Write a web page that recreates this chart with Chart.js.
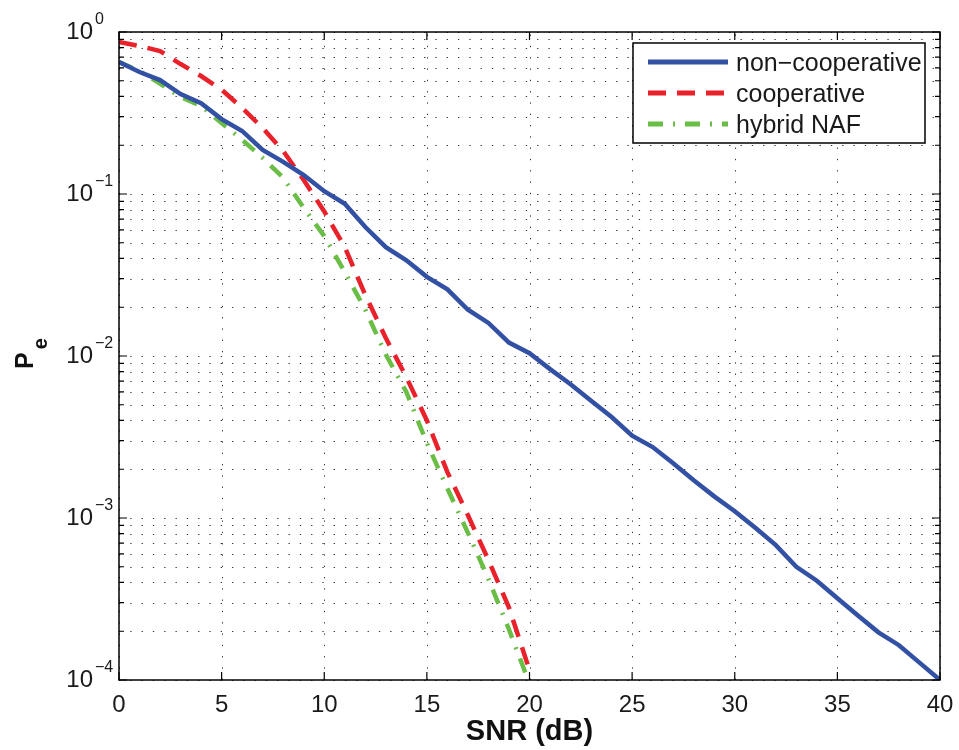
<!DOCTYPE html>
<html>
<head>
<meta charset="utf-8">
<script src="https://cdn.jsdelivr.net/npm/chart.js@4/dist/chart.umd.min.js"></script>
<style>
  html, body { margin: 0; padding: 0; background: #fff; }
  #wrap { width: 959px; height: 750px; }
</style>
</head>
<body>
<div id="wrap"><canvas id="c" width="959" height="750"></canvas></div>
<script>
// data
const snr = [0,1,2,3,4,5,6,7,8,9,10,11,12,13,14,15,16,17,18,19,20,
  21,22,23,24,25,26,27,28,29,30,31,32,33,34,35,36,37,38,39,40];
const nonCoop = [0.653,0.566,0.505,0.414,0.364,0.290,0.245,0.187,0.158,0.131,0.104,
  0.087,0.0625,0.047,0.039,0.0308,0.0258,0.0193,0.0160,0.0121,0.0104,
  0.0083,0.0067,0.0053,0.0042,0.00322,0.00274,0.00218,0.00171,0.00136,0.00110,
  0.00087,0.00068,0.00050,0.00041,0.00032,0.00025,0.000197,0.000164,0.000128,0.0001];
const coop = [0.867,0.82,0.763,0.634,0.535,0.44,0.34,0.255,0.184,0.122,0.078,
  0.047,0.0238,0.0129,0.0074,0.0040,0.00192,0.00104,0.00055,0.00028,0.000115];
const hybrid = [0.653,0.575,0.48,0.397,0.35,0.274,0.216,0.167,0.126,0.082,0.055,
  0.033,0.0193,0.0102,0.0060,0.0029,0.00152,0.00081,0.00042,0.000205,0.000095];

const xTicks = [0,5,10,15,20,25,30,35,40];
const yDecades = [0,-1,-2,-3,-4];
const seriesNames = ['non\u2212cooperative','cooperative','hybrid NAF'];

const FONT = '"Liberation Sans", Arial, Helvetica, sans-serif';

function pts(ys){ return ys.map((y,i)=>({x: snr[i], y})); }

// grid, frame, ticks, labels and legend, MATLAB style
const axesPlugin = {
  id: 'matlabAxes',
  beforeDatasetsDraw(chart){
    const {ctx, chartArea: a, scales: {x, y}} = chart;
    ctx.save();
    ctx.fillStyle = '#fff';
    ctx.fillRect(a.left, a.top, a.right - a.left, a.bottom - a.top);
    ctx.strokeStyle = '#333';
    ctx.lineWidth = 1;
    ctx.setLineDash([1.3, 10]);
    // vertical dotted grid at major x ticks
    xTicks.forEach(v=>{
      const px = Math.round(x.getPixelForValue(v)) + 0.5;
      ctx.beginPath(); ctx.moveTo(px, a.bottom); ctx.lineTo(px, a.top); ctx.stroke();
    });
    // horizontal dotted grid at every log tick
    yDecades.forEach(d=>{
      for(let k=1;k<=9;k++){
        const v = k * Math.pow(10, d);
        if(v > 1.0001) break;
        const py = Math.round(y.getPixelForValue(v)) + 0.5;
        ctx.beginPath(); ctx.moveTo(a.left, py); ctx.lineTo(a.right, py); ctx.stroke();
      }
    });
    ctx.restore();
  },
  afterDatasetsDraw(chart){
    const {ctx, chartArea: a, scales: {x, y}} = chart;
    ctx.save();
    ctx.setLineDash([]);
    ctx.strokeStyle = '#000';
    ctx.lineWidth = 1.5;
    ctx.strokeRect(a.left, a.top, a.right - a.left, a.bottom - a.top);

    // ticks
    ctx.lineWidth = 1.2;
    ctx.beginPath();
    xTicks.forEach(v=>{
      const px = x.getPixelForValue(v);
      ctx.moveTo(px, a.bottom); ctx.lineTo(px, a.bottom - 8);
      ctx.moveTo(px, a.top); ctx.lineTo(px, a.top + 8);
    });
    yDecades.forEach(d=>{
      for(let k=1;k<=9;k++){
        const v = k * Math.pow(10, d);
        if(v > 1.0001) break;
        const py = y.getPixelForValue(v);
        const len = k === 1 ? 8 : 5;
        ctx.moveTo(a.left, py); ctx.lineTo(a.left + len, py);
        ctx.moveTo(a.right, py); ctx.lineTo(a.right - len, py);
      }
    });
    ctx.stroke();

    // tick labels
    ctx.fillStyle = '#1a1a1a';
    ctx.font = '24px ' + FONT;
    ctx.textAlign = 'center';
    ctx.textBaseline = 'alphabetic';
    xTicks.forEach(v=>{
      ctx.fillText(String(v), x.getPixelForValue(v), a.bottom + 32);
    });
    yDecades.forEach(d=>{
      const py = y.getPixelForValue(Math.pow(10, d));
      ctx.font = '24px ' + FONT;
      ctx.textAlign = 'right';
      ctx.fillText('10', 93, py + 7);
      ctx.font = '16px ' + FONT;
      ctx.textAlign = 'left';
      ctx.fillText(d === 0 ? '0' : '\u2212' + Math.abs(d), 95, py - 8);
    });

    // axis titles
    ctx.fillStyle = '#111';
    ctx.font = 'bold 29px ' + FONT;
    ctx.textAlign = 'center';
    ctx.fillText('SNR (dB)', (a.left + a.right) / 2, 740);

    ctx.save();
    ctx.translate(33, 369);
    ctx.rotate(-Math.PI / 2);
    ctx.textAlign = 'left';
    ctx.font = 'bold 25px ' + FONT;
    ctx.fillText('P', 0, 0);
    const pw = ctx.measureText('P').width;
    ctx.font = 'bold 20px ' + FONT;
    ctx.fillText('e', pw + 3, 14);
    ctx.restore();

    // legend
    const box = {l: 633, t: 43, r: 925, b: 143};
    ctx.fillStyle = '#fff';
    ctx.fillRect(box.l, box.t, box.r - box.l, box.b - box.t);
    ctx.strokeStyle = '#000';
    ctx.lineWidth = 1.5;
    ctx.strokeRect(box.l, box.t, box.r - box.l, box.b - box.t);
    const rowY = [62, 93, 124];
    chart.data.datasets.forEach((ds, i)=>{
      ctx.strokeStyle = ds.borderColor;
      ctx.lineWidth = 5;
      ctx.setLineDash(ds.borderDash || []);
      ctx.beginPath(); ctx.moveTo(648, rowY[i]); ctx.lineTo(728, rowY[i]); ctx.stroke();
      ctx.setLineDash([]);
      ctx.fillStyle = '#1a1a1a';
      ctx.font = '25px ' + FONT;
      ctx.textAlign = 'left';
      ctx.fillText(ds.label, 736, rowY[i] + 9);
    });
    ctx.restore();
  }
};

new Chart(document.getElementById('c'), {
  type: 'line',
  data: {
    datasets: [
      { label: seriesNames[0], data: pts(nonCoop), borderColor: '#3351a4', borderWidth: 4.5,
        pointRadius: 0, tension: 0 },
      { label: seriesNames[1], data: pts(coop), borderColor: '#e8212a', borderWidth: 4.5,
        borderDash: [18, 11], borderCapStyle: 'butt', pointRadius: 0, tension: 0 },
      { label: seriesNames[2], data: pts(hybrid), borderColor: '#6abd45', borderWidth: 4.5,
        borderDash: [15, 10, 2, 10], borderCapStyle: 'butt', pointRadius: 0, tension: 0 }
    ]
  },
  options: {
    responsive: false,
    animation: false,
    layout: { padding: { left: 119, right: 19, top: 32, bottom: 70 } },
    plugins: { legend: { display: false }, tooltip: { enabled: false } },
    scales: {
      x: { type: 'linear', min: 0, max: 40, display: false },
      y: { type: 'logarithmic', min: 1e-4, max: 1, display: false }
    }
  },
  plugins: [axesPlugin]
});
</script>
</body>
</html>
